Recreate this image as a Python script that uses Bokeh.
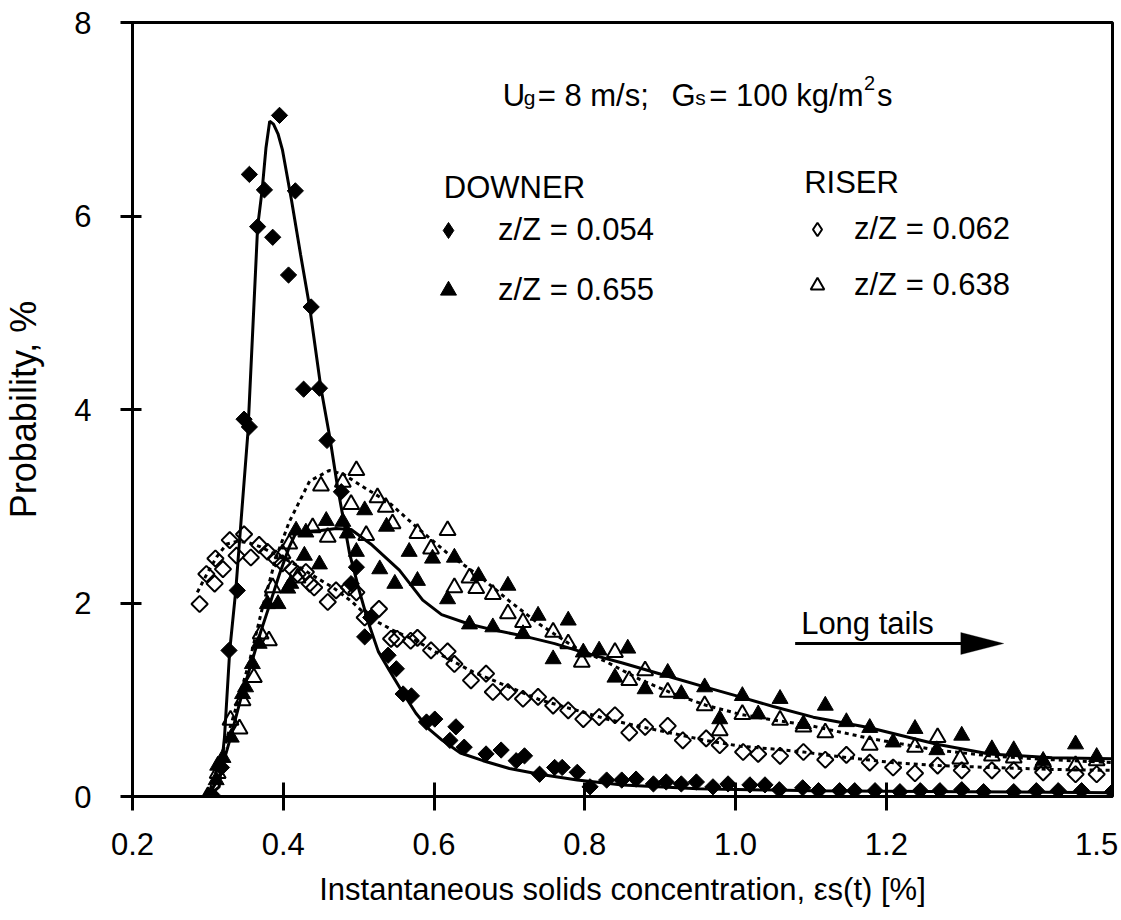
import numpy as np
from bokeh.plotting import figure
from bokeh.models import (FixedTicker, Label, Legend, LegendItem, Arrow, PolyAnnotation,
                          LinearAxis)
from bokeh.embed import file_html
from bokeh.resources import INLINE

# ---------------- data ----------------
# DOWNER z/Z = 0.054 (filled diamonds)
down1_x = [0.305, 0.318, 0.328, 0.339, 0.348, 0.355, 0.355, 0.366, 0.375, 0.386,
           0.395, 0.407, 0.416, 0.427, 0.437, 0.448, 0.458, 0.477, 0.490, 0.497,
           0.508, 0.516, 0.539, 0.550, 0.559, 0.570, 0.590, 0.601, 0.621, 0.629,
           0.640, 0.669, 0.689, 0.709, 0.720, 0.740, 0.760, 0.770, 0.790, 0.807,
           0.829, 0.849, 0.868, 0.891, 0.908, 0.928, 0.948, 0.970, 0.990, 1.019,
           1.039, 1.058, 1.089, 1.110, 1.138, 1.158, 1.185, 1.218, 1.245, 1.271,
           1.300, 1.329, 1.369, 1.399, 1.428, 1.459, 1.500]
down1_y = [0.02, 0.30, 1.51, 2.13, 3.90, 3.82, 6.43, 5.89, 6.27, 5.78,
           7.04, 5.39, 6.26, 4.21, 5.06, 4.22, 3.68, 3.15, 2.20, 2.37,
           1.65, 1.85, 1.46, 1.32, 1.06, 1.04, 0.77, 0.80, 0.58, 0.72,
           0.51, 0.44, 0.48, 0.37, 0.42, 0.23, 0.30, 0.30, 0.25, 0.10,
           0.17, 0.17, 0.18, 0.13, 0.15, 0.13, 0.15, 0.10, 0.13, 0.12,
           0.12, 0.07, 0.09, 0.06, 0.06, 0.06, 0.06, 0.05, 0.06, 0.06,
           0.07, 0.05, 0.05, 0.06, 0.06, 0.06, 0.05]
down1_fit_x = [0.300, 0.315, 0.322, 0.329, 0.337, 0.345, 0.353, 0.360, 0.366, 0.372,
               0.377, 0.382, 0.387, 0.393, 0.399, 0.411, 0.423, 0.435, 0.450, 0.462,
               0.472, 0.488, 0.500, 0.512, 0.526, 0.541, 0.558, 0.576, 0.593, 0.611,
               0.635, 0.665, 0.700, 0.740, 0.790, 0.850, 0.950, 1.100, 1.300, 1.500]
down1_fit_y = [0.00, 0.10, 0.61, 1.51, 2.13, 2.95, 3.75, 4.90, 5.89, 6.27,
               6.70, 6.98, 6.95, 6.85, 6.68, 6.16, 5.60, 5.06, 4.22, 3.70,
               3.20, 2.51, 2.15, 1.82, 1.50, 1.30, 1.08, 0.86, 0.70, 0.58,
               0.45, 0.37, 0.29, 0.23, 0.17, 0.12, 0.08, 0.06, 0.05, 0.04]

# DOWNER z/Z = 0.655 (filled triangles)
down2_x = [0.300, 0.311, 0.313, 0.320, 0.331, 0.346, 0.350, 0.359, 0.368, 0.379,
           0.393, 0.406, 0.410, 0.417, 0.428, 0.430, 0.448, 0.457, 0.479, 0.485,
           0.497, 0.508, 0.528, 0.537, 0.548, 0.567, 0.578, 0.598, 0.618, 0.627,
           0.647, 0.659, 0.678, 0.698, 0.718, 0.738, 0.758, 0.778, 0.798, 0.819,
           0.840, 0.857, 0.880, 0.910, 0.928, 0.959, 0.979, 1.009, 1.030, 1.059,
           1.090, 1.119, 1.147, 1.178, 1.209, 1.238, 1.267, 1.300, 1.340, 1.369,
           1.408, 1.451, 1.479]
down2_y = [0.00, 0.17, 0.32, 0.40, 0.61, 1.06, 1.13, 1.37, 1.58, 1.99,
           1.99, 2.15, 2.20, 2.75, 2.49, 2.73, 2.40, 2.85, 2.84, 2.72,
           2.53, 2.96, 2.35, 2.79, 2.20, 2.53, 2.23, 2.46, 2.04, 2.47,
           1.78, 2.28, 1.75, 2.18, 1.68, 1.87, 1.42, 1.82, 1.49, 1.51,
           1.23, 1.53, 1.11, 1.28, 1.06, 1.13, 0.80, 1.04, 0.85, 1.01,
           0.75, 0.94, 0.77, 0.71, 0.56, 0.70, 0.48, 0.63, 0.49, 0.48,
           0.37, 0.54, 0.41]
down2_fit_x = [0.300, 0.315, 0.329, 0.345, 0.359, 0.370, 0.381, 0.395, 0.408, 0.417,
               0.430, 0.450, 0.470, 0.490, 0.516, 0.554, 0.585, 0.610, 0.647, 0.680,
               0.718, 0.760, 0.798, 0.850, 0.916, 0.960, 1.006, 1.050, 1.103, 1.178,
               1.267, 1.337, 1.420, 1.500]
down2_fit_y = [0.00, 0.20, 0.58, 1.05, 1.41, 1.70, 1.96, 2.30, 2.58, 2.73,
               2.74, 2.75, 2.77, 2.76, 2.61, 2.34, 2.03, 1.88, 1.78, 1.72,
               1.66, 1.58, 1.49, 1.38, 1.23, 1.13, 1.03, 0.93, 0.82, 0.71,
               0.54, 0.44, 0.40, 0.39]

# RISER z/Z = 0.062 (open diamonds)
rise1_x = [0.289, 0.298, 0.309, 0.310, 0.320, 0.329, 0.338, 0.348, 0.357, 0.368,
           0.379, 0.390, 0.399, 0.412, 0.419, 0.430, 0.435, 0.441, 0.459, 0.470,
           0.487, 0.497, 0.508, 0.527, 0.543, 0.551, 0.569, 0.578, 0.596, 0.618,
           0.627, 0.649, 0.669, 0.678, 0.698, 0.718, 0.738, 0.758, 0.778, 0.798,
           0.819, 0.840, 0.859, 0.880, 0.910, 0.930, 0.961, 0.979, 1.010, 1.030,
           1.059, 1.090, 1.119, 1.147, 1.178, 1.209, 1.238, 1.268, 1.300, 1.340,
           1.369, 1.408, 1.451, 1.479]
rise1_y = [1.99, 2.30, 2.20, 2.46, 2.35, 2.65, 2.49, 2.71, 2.47, 2.60,
           2.53, 2.46, 2.41, 2.35, 2.30, 2.32, 2.20, 2.16, 2.01, 2.13,
           2.16, 2.11, 1.85, 1.94, 1.63, 1.63, 1.61, 1.64, 1.51, 1.50,
           1.37, 1.20, 1.27, 1.08, 1.08, 1.01, 1.03, 0.94, 0.89, 0.80,
           0.82, 0.84, 0.66, 0.72, 0.73, 0.58, 0.60, 0.53, 0.46, 0.44,
           0.42, 0.46, 0.38, 0.43, 0.35, 0.30, 0.24, 0.32, 0.27, 0.27,
           0.27, 0.25, 0.23, 0.23]
rise1_fit_x = [0.286, 0.300, 0.312, 0.325, 0.340, 0.355, 0.370, 0.385, 0.399, 0.420,
               0.440, 0.466, 0.490, 0.514, 0.545, 0.576, 0.610, 0.651, 0.700, 0.740,
               0.785, 0.829, 0.875, 0.918, 0.960, 1.006, 1.050, 1.090, 1.150, 1.209,
               1.270, 1.337, 1.420, 1.500]
rise1_fit_y = [2.11, 2.32, 2.48, 2.61, 2.64, 2.62, 2.58, 2.52, 2.47, 2.38,
               2.28, 2.16, 2.02, 1.85, 1.72, 1.61, 1.46, 1.29, 1.13, 1.00,
               0.90, 0.80, 0.72, 0.65, 0.58, 0.52, 0.49, 0.46, 0.40, 0.35,
               0.32, 0.30, 0.28, 0.27]

# RISER z/Z = 0.638 (open triangles)
rise2_x = [0.300, 0.313, 0.330, 0.342, 0.346, 0.361, 0.370, 0.381, 0.386, 0.399,
           0.408, 0.419, 0.439, 0.450, 0.459, 0.479, 0.490, 0.497, 0.510, 0.525,
           0.536, 0.545, 0.578, 0.596, 0.618, 0.627, 0.647, 0.656, 0.678, 0.698,
           0.718, 0.758, 0.778, 0.796, 0.840, 0.859, 0.880, 0.910, 0.959, 0.979,
           1.009, 1.059, 1.090, 1.119, 1.178, 1.238, 1.268, 1.298, 1.340, 1.369,
           1.408, 1.451, 1.479]
rise2_y = [0.00, 0.24, 0.79, 0.70, 0.99, 1.23, 1.68, 1.61, 2.16, 2.51,
           2.61, 2.26, 2.78, 3.21, 2.68, 3.25, 3.02, 3.37, 2.70, 3.09,
           2.99, 2.82, 2.72, 2.56, 2.75, 2.16, 2.26, 2.15, 2.09, 1.89,
           1.80, 1.70, 1.58, 1.39, 1.49, 1.20, 1.30, 1.08, 0.94, 0.68,
           0.85, 0.79, 0.72, 0.66, 0.53, 0.51, 0.61, 0.39, 0.42, 0.40,
           0.35, 0.32, 0.37]
rise2_fit_x = [0.300, 0.324, 0.337, 0.355, 0.372, 0.390, 0.408, 0.435, 0.461, 0.480,
               0.510, 0.540, 0.576, 0.620, 0.660, 0.700, 0.740, 0.785, 0.829, 0.873,
               0.918, 0.962, 1.006, 1.050, 1.095, 1.178, 1.267, 1.337, 1.420, 1.500]
rise2_fit_y = [0.00, 0.57, 0.91, 1.39, 1.94, 2.46, 2.84, 3.26, 3.37, 3.33,
               3.18, 3.04, 2.79, 2.50, 2.28, 2.02, 1.78, 1.55, 1.39, 1.21,
               1.06, 0.94, 0.85, 0.79, 0.74, 0.60, 0.48, 0.42, 0.38, 0.35]

x_ticks = [0.2, 0.4, 0.6, 0.8, 1.0, 1.2]
x_tick_labels = ["0.2", "0.4", "0.6", "0.8", "1.0", "1.2"]
x_end_label = "1.5"
x_end_label_pos = 1.479   # the reference prints "1.5" just inside the right edge
y_ticks = [0, 2, 4, 6, 8]

# ---------------- layout ----------------
FONT = "Liberation Sans"
W, H = 1121, 920
FL, FT, FW, FH = 130, 22, 982, 774          # plot frame in page pixels
X0, X1, Y0, Y1 = 0.2, 1.5, 0.0, 8.0


def sx(px):  # page x -> data x (used only to place annotations)
    return X0 + (px - FL) * (X1 - X0) / FW


def sy(py):  # page y -> data y (used only to place annotations)
    return Y0 + (FT + FH - py) * (Y1 - Y0) / FH


p = figure(width=W, height=H, x_range=(X0, X1), y_range=(Y0, Y1),
           output_backend="svg", toolbar_location=None,
           min_border_left=FL, min_border_right=W - FL - FW,
           min_border_top=FT, min_border_bottom=H - FT - FH,
           y_axis_label="Probability, %")
p.xgrid.visible = False
p.ygrid.visible = False
p.outline_line_color = "black"
p.outline_line_width = 3
p.background_fill_color = "white"
p.border_fill_color = "white"

# x axis, part 1: axis line and tick marks only
xa = p.xaxis[0]
xa.ticker = FixedTicker(ticks=x_ticks)
xa.axis_line_width = 3
xa.axis_line_color = "black"
xa.major_tick_line_width = 3
xa.major_tick_line_color = "black"
xa.minor_tick_line_color = None
xa.major_tick_in = 14
xa.major_tick_out = 14
xa.major_label_overrides = {t: "" for t in x_ticks}
xa.major_label_text_font_size = "0px"
xa.major_label_standoff = 0
xa.axis_label = None

# x axis, part 2: tick labels and title
label_axis = LinearAxis(
    ticker=FixedTicker(ticks=x_ticks + [x_end_label_pos]),
    major_label_overrides={**{t: l for t, l in zip(x_ticks, x_tick_labels)},
                           x_end_label_pos: x_end_label},
    axis_line_color=None, major_tick_line_color=None, minor_tick_line_color=None,
    major_tick_in=0, major_tick_out=0, major_label_standoff=22,
    major_label_text_font=FONT, major_label_text_font_size="31px",
    major_label_text_color="black",
    axis_label="Instantaneous solids concentration, εs(t) [%]",
    axis_label_standoff=14, axis_label_text_font=FONT,
    axis_label_text_font_size="31px", axis_label_text_font_style="normal",
    axis_label_text_color="black")
p.add_layout(label_axis, "below")

ya = p.yaxis[0]
ya.ticker = FixedTicker(ticks=y_ticks)
ya.axis_line_width = 3
ya.axis_line_color = "black"
ya.major_tick_line_width = 3
ya.major_tick_line_color = "black"
ya.minor_tick_line_color = None
ya.major_tick_in = 9
ya.major_tick_out = 12
ya.major_label_standoff = 29
ya.major_label_text_font = FONT
ya.major_label_text_font_size = "31px"
ya.major_label_text_color = "black"
ya.axis_label_standoff = 27
ya.axis_label_text_font = FONT
ya.axis_label_text_font_size = "36px"
ya.axis_label_text_font_style = "normal"
ya.axis_label_text_color = "black"

# fitted curves
p.line(down1_fit_x, down1_fit_y, line_color="black", line_width=3)
p.line(down2_fit_x, down2_fit_y, line_color="black", line_width=3)
p.line(rise1_fit_x, rise1_fit_y, line_color="black", line_width=3, line_dash="4 4")
p.line(rise2_fit_x, rise2_fit_y, line_color="black", line_width=3, line_dash="4 4")

# measured points
r_rise1 = p.scatter(rise1_x, rise1_y, marker="square", angle=np.pi / 4, size=11.5,
                    fill_color=None, line_color="black", line_width=2)
r_rise2 = p.scatter(rise2_x, rise2_y, marker="triangle", size=16,
                    fill_color=None, line_color="black", line_width=2)
r_down2 = p.scatter(down2_x, down2_y, marker="triangle", size=16,
                    fill_color="black", line_color="black", line_width=1)
r_down1 = p.scatter(down1_x, down1_y, marker="square", angle=np.pi / 4, size=11.5,
                    fill_color="black", line_color="black", line_width=1)

# legend key proxies (diamond shape, no visible point in the plot)
nan = np.array([np.nan])
k_down1 = p.scatter(nan, nan, marker="diamond", fill_color="black",
                    line_color="black", line_width=1)
k_rise1 = p.scatter(nan, nan, marker="diamond", fill_color=None,
                    line_color="black", line_width=2)

common = dict(orientation="vertical", padding=0, margin=0, border_line_color=None,
              background_fill_alpha=0, label_text_font=FONT,
              label_text_font_size="31px", label_text_color="black")
leg_down = Legend(items=[LegendItem(label="z/Z = 0.054", renderers=[k_down1]),
                         LegendItem(label="z/Z = 0.655", renderers=[r_down2])],
                  location=(296, 486), glyph_width=40, glyph_height=40,
                  label_height=40, spacing=20, label_standoff=30, **common)
leg_rise = Legend(items=[LegendItem(label="z/Z = 0.062", renderers=[k_rise1]),
                         LegendItem(label="z/Z = 0.638", renderers=[r_rise2])],
                  location=(668, 493), glyph_width=34, glyph_height=34,
                  label_height=35, spacing=20, label_standoff=20, **common)
p.add_layout(leg_down)
p.add_layout(leg_rise)


def lab(text, px, py, size="31px", align="left"):
    p.add_layout(Label(x=sx(px), y=sy(py), text=text, text_font=FONT,
                       text_font_size=size, text_align=align,
                       text_baseline="alphabetic", text_color="black"))


# header: U_g = 8 m/s;   G_s = 100 kg/m^2 s
lab("U", 501, 95)
lab("g", 522, 97, size="21px")
lab("= 8 m/s;", 536, 95)
lab("G", 670, 95)
lab("s", 694, 97, size="21px")
lab("= 100 kg/m", 708, 95)
lab("2", 863, 82, size="20px")
lab("s", 876, 95)

lab("DOWNER", 442, 187)
lab("RISER", 803, 182)
lab("Long tails", 800, 623)

# arrow
p.add_layout(Arrow(x_start=sx(794), y_start=sy(643), x_end=sx(964), y_end=sy(643),
                   start=None, end=None, line_width=3, line_color="black"))
p.add_layout(PolyAnnotation(xs=[sx(960), sx(1003), sx(960)],
                            ys=[sy(632), sy(643), sy(654)],
                            fill_color="black", fill_alpha=1.0,
                            line_color="black", line_width=1))

open("out.html", "w").write(file_html(p, INLINE))
